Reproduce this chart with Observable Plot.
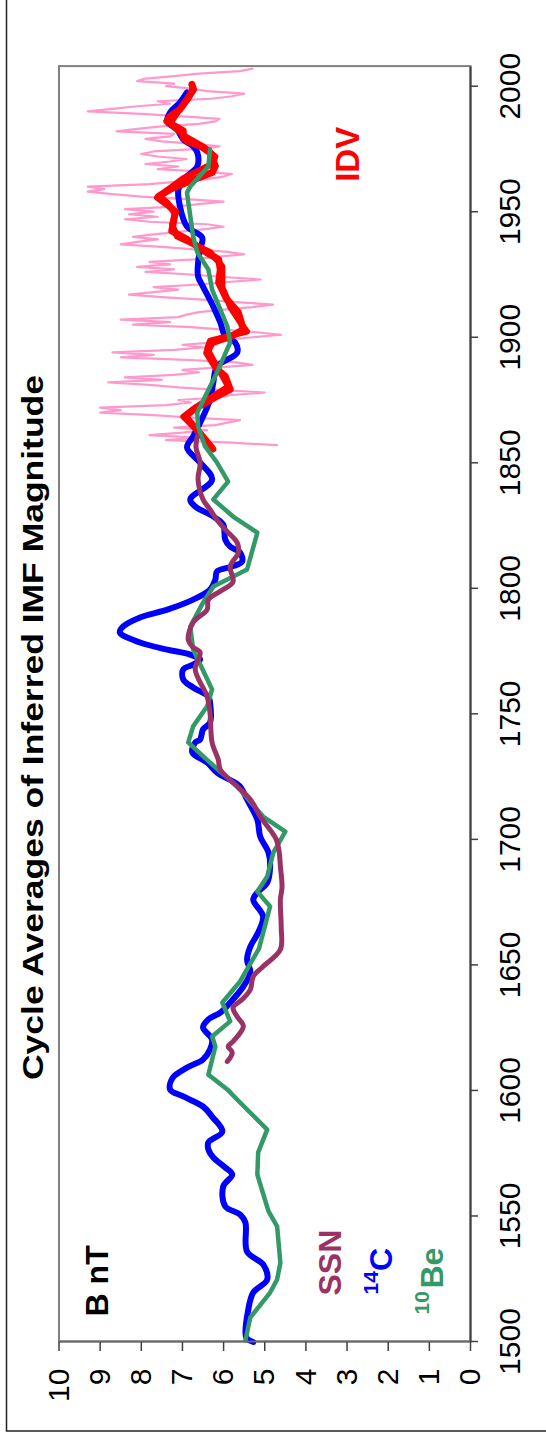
<!DOCTYPE html>
<html><head><meta charset="utf-8">
<script src="https://cdn.jsdelivr.net/npm/d3@7"></script>
<script src="https://cdn.jsdelivr.net/npm/@observablehq/plot@0.6"></script>
<style>
html,body{margin:0;padding:0;background:#fff;overflow:hidden;width:546px;height:1439px;}
#rot{position:absolute;left:0;top:0;width:1439px;height:546px;transform-origin:0 0;transform:translate(0px,1439px) rotate(-90deg);}
</style></head><body><div id="rot"></div>
<script>
const FONT = "Arial, 'Liberation Sans', Helvetica, sans-serif";
const titleText = "Cycle Averages of Inferred IMF Magnitude";
const yearTicks = [1500,1550,1600,1650,1700,1750,1800,1850,1900,1950,2000];
const bTicks = [0,1,2,3,4,5,6,7,8,9,10];

// 14C based reconstruction (blue)
const c14Years = [1499.8,1501.6,1512.7,1519.5,1524.7,1530.7,1535.8,1547.4,1550.6,1553.8,1561.7,1566.5,1569.3,1573.3,1576.5,1579.3,1583.6,1589.6,1593.6,1597.6,1600.4,1605.2,1609.1,1612.3,1616.3,1620.3,1625.1,1628.3,1631.0,1635.0,1641.4,1647.0,1652.1,1657.3,1662.9,1669.3,1676.0,1678.8,1682.8,1689.2,1694.8,1701.1,1707.9,1715.9,1721.1,1723.0,1726.6,1730.6,1734.6,1738.6,1739.8,1743.8,1746.5,1754.5,1756.9,1760.5,1763.7,1767.7,1769.6,1771.6,1773.6,1775.6,1778.4,1782.4,1784.8,1788.4,1791.5,1795.5,1799.5,1803.5,1806.7,1808.7,1810.7,1814.3,1816.6,1819.4,1825.4,1828.6,1832.6,1835.4,1843.3,1850.1,1856.1,1860.5,1866.0,1875.2,1882.0,1888.3,1893.9,1897.9,1900.3,1905.9,1912.2,1920.2,1924.2,1929.8,1935.0,1939.7,1944.1,1952.1,1958.8,1962.8,1968.0,1973.6,1976.0,1978.8,1982.7,1985.9,1989.5,1993.5,1997.5];
const c14B = [5.28,5.45,5.40,5.28,4.94,5.04,5.43,5.47,5.60,5.96,6.01,5.79,5.96,6.25,6.37,6.37,6.03,6.28,6.50,6.98,7.30,7.23,6.89,6.50,6.33,6.28,6.50,6.37,6.08,5.84,5.52,5.35,5.43,5.35,5.16,5.04,5.28,5.18,4.94,4.87,4.91,5.11,5.18,5.43,5.60,5.77,6.16,6.40,6.76,6.69,6.57,6.50,6.33,6.33,6.37,6.74,6.98,6.98,6.74,6.57,6.81,7.37,8.03,8.52,8.44,8.03,7.37,6.74,6.33,6.20,6.16,5.79,5.55,5.60,5.84,5.96,6.01,6.25,6.69,6.81,6.28,6.57,6.89,6.74,6.57,6.33,6.25,6.16,5.67,5.72,5.96,6.08,6.25,6.50,6.62,6.62,6.57,6.52,6.89,7.06,7.10,6.98,6.64,6.64,6.74,6.98,7.13,7.37,7.30,7.06,6.89];

// 10Be based reconstruction (green)
const be10Years = [1500.5,1509.6,1519.5,1524.7,1531.3,1545.9,1551.9,1560.5,1566.5,1575.3,1584.4,1595.2,1600.4,1606.3,1617.5,1621.5,1627.5,1635.0,1643.4,1656.5,1673.3,1679.2,1685.2,1694.8,1703.1,1709.1,1721.1,1730.6,1738.6,1745.0,1753.0,1759.7,1775.6,1784.8,1794.3,1800.7,1807.5,1822.2,1828.6,1835.4,1842.5,1850.1,1856.5,1864.4,1870.0,1874.0,1886.0,1897.9,1904.3,1919.0,1927.0,1933.8,1940.1,1957.6,1960.0,1968.0,1974.8];
const be10B = [5.47,5.35,4.87,4.70,4.62,4.70,4.91,5.07,5.18,5.16,4.94,5.60,5.91,6.37,6.20,6.28,5.84,6.03,5.60,5.14,4.87,5.18,4.94,4.79,4.50,5.04,5.67,6.33,6.86,6.74,6.40,6.28,6.74,6.81,6.50,6.25,5.43,5.18,5.77,6.25,5.89,6.16,6.45,6.62,6.64,6.52,6.16,5.84,5.91,6.28,6.37,6.64,6.74,6.89,6.81,6.37,6.33];

// Sunspot number based (maroon)
const ssnYears = [1611.5,1615.1,1617.5,1619.5,1625.5,1629.4,1633.0,1636.2,1640.2,1645.4,1649.4,1656.1,1665.0,1676.0,1681.0,1689.2,1695.0,1700.0,1709.1,1715.9,1721.1,1727.8,1731.8,1738.6,1750.5,1756.9,1767.7,1774.4,1776.8,1779.6,1786.4,1791.5,1795.5,1799.5,1802.7,1808.7,1814.3,1818.2,1823.4,1826.6,1831.4,1835.4,1843.3,1850.1,1856.1,1860.5];
const ssnB = [5.91,5.79,5.89,5.77,5.52,5.67,5.77,5.55,5.35,5.28,5.04,4.62,4.60,4.62,4.58,4.62,4.65,4.72,5.11,5.35,5.67,6.08,6.13,6.28,6.33,6.40,6.69,6.57,6.76,6.86,6.74,6.40,6.37,6.01,5.77,5.84,5.64,5.67,5.96,6.13,6.33,6.50,6.62,6.57,6.67,6.64];

// IDV based cycle averages (red, two overlapping traces)
const idvYears = [1855.9,1863.2,1868.5,1871.2,1876.5,1879.2,1884.5,1887.2,1893.8,1897.8,1900.5,1903.1,1909.8,1915.1,1921.7,1927.0,1931.0,1933.7,1939.0,1942.3,1949.6,1953.6,1956.2,1958.9,1962.2,1965.6,1968.2,1973.5,1976.2,1977.8,1979.5,1982.2,1984.8,1986.1,1988.1,1990.8,1994.7,1998.7,2000.7];
const idvB = [6.28,6.65,6.93,6.73,6.16,5.84,5.96,6.16,6.41,6.28,5.80,5.52,5.64,5.92,6.12,6.08,6.12,6.41,6.89,7.26,7.18,7.38,7.58,7.30,6.81,6.28,6.20,6.33,6.57,6.85,6.98,6.98,7.26,7.38,7.30,7.06,6.89,6.73,6.77];
const idv2Years = [1855.3,1860.5,1868.4,1872.0,1880.4,1886.0,1889.5,1895.5,1898.6,1902.3,1906.0,1912.0,1920.0,1928.2,1934.0,1940.1,1945.0,1950.0,1955.6,1963.4,1969.3,1972.0,1976.0,1980.0,1985.0,1990.0,1995.0,1999.0];
const idv2B = [6.25,6.50,6.98,6.69,5.89,6.08,6.20,6.40,6.33,5.43,5.60,5.84,6.03,6.03,6.33,7.13,7.25,7.15,7.62,6.98,6.25,6.20,6.50,6.93,7.30,7.10,6.86,6.76];

// IDV annual values (pink), 1857..2007
const idvAnnualStart = 1857;
const idvAnnualB = [4.7,5.8,7.4,6.6,7.8,7.0,6.4,7.2,6.2,5.9,
5.6,6.8,7.7,9.0,8.5,9.0,7.4,6.8,7.1,6.1,
5.8,5.0,6.1,7.1,7.8,8.8,7.5,8.4,7.2,6.6,
7.0,6.1,5.3,5.7,6.9,8.5,7.7,8.7,7.2,6.5,
7.0,6.2,5.9,5.3,4.6,5.2,6.0,6.8,8.2,7.3,
8.5,7.1,6.9,6.6,6.0,5.3,4.8,5.7,6.5,7.5,
8.3,7.7,7.1,7.7,6.6,5.9,5.1,6.0,6.8,7.9,
7.2,8.1,7.3,7.8,6.7,6.2,5.5,5.9,6.7,7.5,
8.5,8.1,7.6,8.2,7.7,7.1,6.5,6.0,6.4,7.8,
8.4,7.6,8.3,7.7,8.4,7.2,6.6,6.0,6.9,8.0,
8.7,9.3,8.9,9.3,7.8,7.1,6.4,6.0,5.8,6.5,
7.6,7.1,7.9,7.3,6.9,7.6,8.0,7.7,6.6,6.1,
6.7,7.5,7.9,7.3,7.2,8.6,8.1,7.5,6.6,6.2,
6.1,7.0,8.0,9.3,8.7,8.1,7.3,7.6,6.3,5.8,
5.5,6.4,6.8,7.4,7.2,8.1,7.9,7.2,6.6,5.6,5.3];

const rows = (xs, ys) => xs.map((x, i) => ({year: x, b: ys[i]}));
const c14 = rows(c14Years, c14B);
const be10 = rows(be10Years, be10B);
const ssn = rows(ssnYears, ssnB);
const idv = rows(idvYears, idvB);
const idv2 = rows(idv2Years, idv2B);
const idvAnnual = idvAnnualB.map((b, i) => ({year: idvAnnualStart + i, b}));

const labels = [
  {text: "B nT", year: 1510.0, b: 8.81, size: 32, color: "#000000"},
  {text: "SSN", year: 1518.3, b: 3.14, size: 32, color: "#993366"},
  {text: "14", year: 1518.7, b: 2.26, size: 21, color: "#0000ff"},
  {text: "C", year: 1528.1, b: 1.90, size: 32, color: "#0000ff"},
  {text: "10", year: 1510.8, b: 1.02, size: 21, color: "#339966"},
  {text: "Be", year: 1521.1, b: 0.66, size: 32, color: "#339966"},
  {text: "IDV", year: 1961.9, b: 2.71, size: 33, color: "#ff0000"}
];

const lineOpts = {x: "year", y: "b", strokeLinejoin: "round", strokeLinecap: "round"};

const chart = Plot.plot({
  width: 1439, height: 546,
  marginLeft: 97, marginRight: 66.6, marginTop: 58.5, marginBottom: 76,
  style: {fontFamily: FONT, background: "white", color: "#000"},
  x: {domain: [1500, 2008], label: null},
  y: {domain: [0, 10], label: null},
  marks: [
    Plot.frame({stroke: "#808080", strokeWidth: 2}),
    Plot.line(idvAnnual, {...lineOpts, stroke: "#ff99cc", strokeWidth: 2.2}),
    Plot.line(c14, {...lineOpts, stroke: "#0000ff", strokeWidth: 6, curve: "catmull-rom"}),
    Plot.line(idv2, {...lineOpts, stroke: "#ff0000", strokeWidth: 6}),
    Plot.line(idv, {...lineOpts, stroke: "#ff0000", strokeWidth: 7}),
    Plot.line(be10, {...lineOpts, stroke: "#339966", strokeWidth: 4.5}),
    Plot.line(ssn, {...lineOpts, stroke: "#993366", strokeWidth: 5, curve: "catmull-rom"}),
    Plot.ruleY([0], {stroke: "#404040", strokeWidth: 2}),
    Plot.ruleX([1500], {stroke: "#6a6a6a", strokeWidth: 2}),
    Plot.axisY({ticks: bTicks, tickSize: 9, tickPadding: 18, fontSize: 30, tickFormat: d => String(d), stroke: "#404040", strokeWidth: 1.5, label: null}),
    Plot.axisX({ticks: yearTicks, tickSize: 8, tickPadding: 20, fontSize: 30, tickFormat: d => String(d), stroke: "#404040", strokeWidth: 1.5, label: null}),
    Plot.text(labels, {x: "year", y: "b", text: "text", fill: "color", fontSize: "size", fontWeight: "bold", textAnchor: "start", lineAnchor: "bottom"})
  ]
});

const svg = d3.select(chart);
svg.append("rect")
  .attr("x", 8).attr("y", 6.5).attr("width", 1460).attr("height", 600)
  .attr("fill", "none").attr("stroke", "#222").attr("stroke-width", 1.5);
svg.append("text")
  .attr("x", 711.5).attr("y", 43)
  .attr("text-anchor", "middle")
  .attr("font-family", FONT).attr("font-weight", "bold").attr("font-size", 29)
  .attr("textLength", 705).attr("lengthAdjust", "spacingAndGlyphs")
  .attr("fill", "#000")
  .text(titleText);

document.getElementById("rot").appendChild(chart);
</script>
</body></html>
